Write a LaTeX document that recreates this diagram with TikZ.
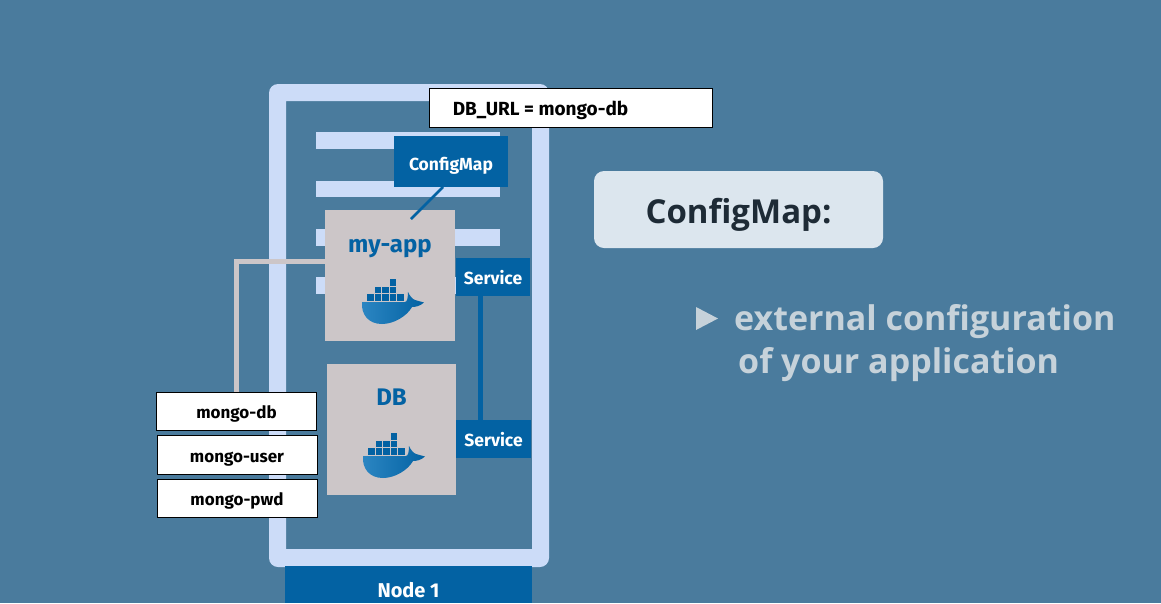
\documentclass[tikz,border=0pt]{standalone}
\usepackage{fontspec}
\setmainfont{Fira Sans}
\newfontfamily\headfont{Open Sans}
\usetikzlibrary{calc}
\definecolor{bgc}{HTML}{4A7B9D}
\definecolor{framec}{HTML}{CCDCF8}
\definecolor{blueb}{HTML}{0362A3}
\definecolor{grayb}{HTML}{CCC6C8}
\definecolor{panelc}{HTML}{DCE6EE}
\definecolor{softc}{HTML}{C6D2DA}
\definecolor{darkc}{HTML}{1E2B36}
\definecolor{whalel}{HTML}{2C86C2}
\tikzset{
  x=1pt,y=-1pt,
  baseoff/.style={text height=#1,text depth=0pt},
  bluebox/.style={fill=blueb,text=white,font=\bfseries\fontsize{17.5}{20}\selectfont,inner sep=0pt,anchor=center},
  whitebox/.style={fill=white,draw=black,line width=1pt,text=black,font=\bfseries\fontsize{17}{20}\selectfont,inner sep=0pt,anchor=center},
  graybox/.style={fill=grayb,inner sep=0pt,anchor=center},
  bartile/.style={fill=framec},
  apptitle/.style={text=blueb,font=\bfseries\fontsize{24}{28}\selectfont,inner sep=0pt,anchor=base},
  whaletile/.style={fill=blueb},
  graylink/.style={draw=grayb,line width=5pt},
  bluelink/.style={draw=blueb},
}
\newcommand{\whale}[2]{%
  \begin{scope}[shift={(#1,#2)}]
    \foreach \bx/\by in {17/24,24.6/24,32.2/24,39.8/24,47.4/24,24.6/16.8,32.2/16.8,39.8/16.8,39.8/9}
      \fill[whaletile] (\bx,\by) rectangle ++(6.6,6.6);
    \shade[left color=whalel,right color=blueb]
      (12,32) -- (55,32)
      .. controls (57,32) and (58,28) .. (58,22)
      .. controls (60,26) and (62,29) .. (65,30)
      -- (74,32.5)
      .. controls (70,36) and (66,37) .. (62,37)
      .. controls (57,46) and (44,54) .. (32,54)
      .. controls (18,54) and (11,44) .. (12,32) -- cycle;
  \end{scope}}
\begin{document}
\begin{tikzpicture}
\useasboundingbox (0,0) rectangle (1161,603);
\fill[bgc] (0,0) rectangle (1161,603);
% frame
\fill[framec,rounded corners=9pt,even odd rule] (269,84) rectangle (549,567)
  [sharp corners] (286,101) rectangle (532,549);
% bars
\fill[bartile] (316,132) rectangle (499.5,149);
\fill[bartile] (316,181) rectangle (499.5,197);
\fill[bartile] (316,229) rectangle (499.5,246);
\fill[bartile] (316,277) rectangle (470,294);
% nodes
\coordinate (appjoin) at (325,261);
\coordinate (cfgout) at (443,187);
\coordinate (appin) at (411,219);
\coordinate (linex) at (480,300);
\node[graybox,minimum width=130pt,minimum height=131pt] (myapp) at (390,275.5) {};
\node[graybox,minimum width=129pt,minimum height=131pt] (db) at (391.5,429.5) {};
\node[apptitle] (myapplabel) at (390,252) {my-app};
\node[apptitle] (dblabel) at (391.5,405) {DB};
\whale{350}{270}
\whale{351}{424}
\node[bluebox,baseoff=17pt,minimum width=114pt,minimum height=51pt] (cfg) at (451,161.5) {ConfigMap};
\node[bluebox,baseoff=14pt,minimum width=74pt,minimum height=38pt] (svca) at (493,277) {Service};
\node[bluebox,baseoff=14pt,minimum width=75pt,minimum height=38pt] (svcb) at (493.5,439) {Service};
\node[bluebox,baseoff=25pt,minimum width=247pt,minimum height=37pt,font=\bfseries\fontsize{20}{24}\selectfont] (nodeone) at (408.5,584.5) {Node 1};
\node[whitebox,baseoff=15pt,minimum width=160pt,minimum height=38pt] (mongodb) at (236.5,411) {mongo-db};
\node[whitebox,baseoff=15pt,minimum width=160pt,minimum height=39pt] (mongouser) at (237,454.5) {mongo-user};
\node[whitebox,baseoff=14pt,minimum width=160pt,minimum height=38pt] (mongopwd) at (237,498) {mongo-pwd};
\node[whitebox,baseoff=15pt,minimum width=283pt,minimum height=39pt,font=\bfseries\fontsize{19}{22}\selectfont] (dburl) at (571,107.5) {DB\_URL = mongo-db\hspace*{61pt}};
% connectors
\draw[graylink] (mongodb.north) |- (appjoin);
\draw[bluelink,line width=2.5pt] (cfgout) -- (appin);
\draw[bluelink,line width=5pt] (svca.south -| linex) -- (svcb.north -| linex);
% right side
\node[fill=panelc,rounded corners=10pt,baseoff=27pt,minimum width=289pt,minimum height=77pt,inner sep=0pt,text=darkc,font=\headfont\bfseries\fontsize{33}{38}\selectfont] (panel) at (738.5,209.5) {ConfigMap:};
\fill[softc] (696,307) -- (718,318.5) -- (696,330) -- cycle;
\node[anchor=base west,inner sep=0pt,text=softc,font=\headfont\bfseries\fontsize{34}{40}\selectfont] (lineone) at (734,330) {external configuration};
\node[anchor=base west,inner sep=0pt,text=softc,font=\headfont\bfseries\fontsize{34}{40}\selectfont] (linetwo) at (738,373) {of your application};
\end{tikzpicture}
\end{document}
